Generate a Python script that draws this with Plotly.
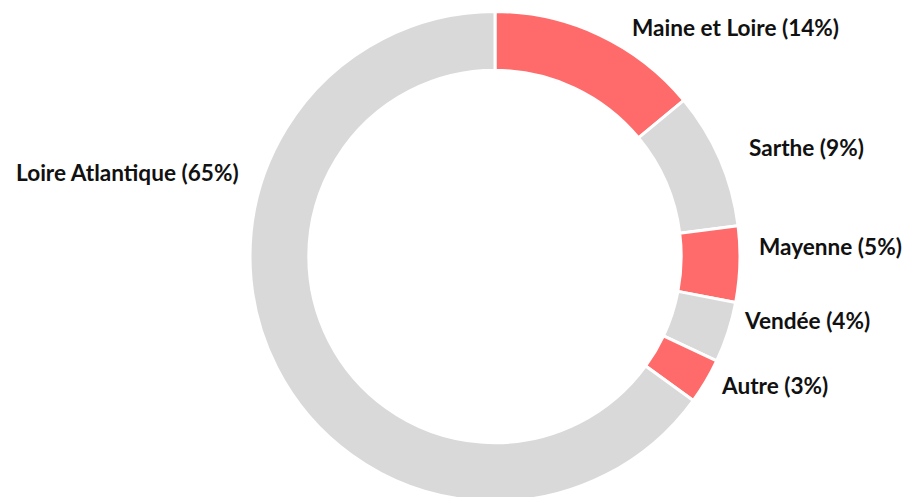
import plotly.graph_objects as go

departements = ["Maine et Loire", "Sarthe", "Mayenne", "Vendée", "Autre", "Loire Atlantique"]
parts = [14, 9, 5, 4, 3, 65]
couleurs = ["#FF6B6B", "#D9D9D9", "#FF6B6B", "#D9D9D9", "#FF6B6B", "#D9D9D9"]

# label anchor positions in pixels (x, y center) and horizontal anchor
label_pos = [(630, 27, "left"), (747, 147, "left"), (757, 246, "left"),
             (742, 320, "left"), (719, 385, "left"), (241, 172, "right")]

W, H = 906, 512
CX, CY, R = 495, 256.5, 245

fig = go.Figure(go.Pie(
    labels=departements,
    values=parts,
    sort=False,
    direction="clockwise",
    rotation=0,
    hole=0.76,
    marker=dict(colors=couleurs, line=dict(color="white", width=3)),
    textinfo="none",
    hoverinfo="label+percent",
    showlegend=False,
    domain=dict(x=[(CX - R) / W, (CX + R) / W],
                y=[1 - (CY + R) / H, 1 - (CY - R) / H]),
))

for name, v, (px, py, anc) in zip(departements, parts, label_pos):
    fig.add_annotation(
        x=px / W, y=1 - py / H, xref="paper", yref="paper",
        text=f"<b>{name} ({v}%)</b>", showarrow=False,
        xanchor=anc, yanchor="middle",
        font=dict(family="Lato", size=22.6, color="#111111"),
    )

fig.update_layout(
    width=W, height=H,
    margin=dict(l=0, r=0, t=0, b=0),
    paper_bgcolor="white",
    plot_bgcolor="white",
)

fig.write_html(
    "out.html",
    config={"displayModeBar": False},
    post_script="document.body.style.margin='0';document.body.style.overflow='hidden';",
)
